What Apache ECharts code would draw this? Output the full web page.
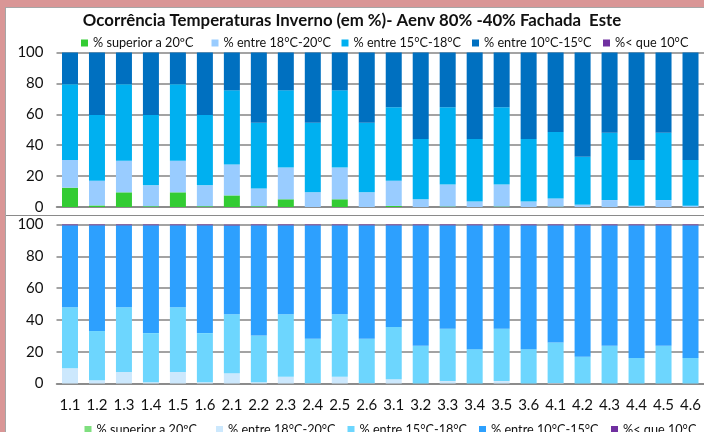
<!DOCTYPE html>
<html>
<head>
<meta charset="utf-8">
<script src="https://cdn.jsdelivr.net/npm/echarts@6/dist/echarts.min.js"></script>
<style>
html,body{margin:0;padding:0;width:704px;height:432px;overflow:hidden;background:#d99696;}
#frame{position:absolute;left:5px;top:7px;width:710px;height:440px;background:#fff;border-left:1px solid #a6a6a6;border-top:1px solid #a6a6a6;}
#sep{position:absolute;left:6px;top:215px;width:700px;height:1px;background:#8a8a8a;}
#chart{position:absolute;left:0;top:0;width:704px;height:432px;}
</style>
</head>
<body>
<div id="frame"></div>
<div id="sep"></div>
<div id="chart"></div>
<script>
const categories = ['1.1','1.2','1.3','1.4','1.5','1.6','2.1','2.2','2.3','2.4','2.5','2.6','3.1','3.2','3.3','3.4','3.5','3.6','4.1','4.2','4.3','4.4','4.5','4.6'];
const yTicks = [0, 20, 40, 60, 80, 100];
const seriesNames = ['% superior a 20ºC', '% entre 18°C-20°C', '% entre 15°C-18°C', '% entre 10°C-15°C', '%< que 10°C'];

// Top chart (segment values, %)
const topSup20 = [12.5,1,9.5,0.5,9.5,0.5,7.5,0.5,5,0,5,0,0.7,0,0.3,0,0.3,0,0.2,0,0,0,0,0];
const top18_20 = [18,16,20.5,13.5,20.5,13.5,20,11.5,20.5,9.5,20.5,9.5,16.3,5,14.2,3.5,14.2,3.5,5.3,1.5,4.5,0.8,4.5,0.8];
const top15_18 = [49,42.5,49.5,45.5,49.5,45.5,48,42.5,50,45,50,45,47.5,39,50,40.5,50,40.5,43,31,43.5,29.7,43.5,29.7];
const top10_15 = [20.5,40.5,20.5,40.5,20.5,40.5,24.5,45.5,24.5,45.5,24.5,45.5,35.5,56,35.5,56,35.5,56,51.5,67.5,52,69.5,52,69.5];
const topInf10 = [0,0,0,0,0,0,0,0,0,0,0,0,0,0,0,0,0,0,0,0,0,0,0,0];

// Bottom chart (segment values, %)
const botSup20 = [0,0,0,0,0,0,0,0,0,0,0,0,0,0,0,0,0,0,0,0,0,0,0,0];
const bot18_20 = [9.6,2,7.3,0.8,7.3,0.8,6.5,0.8,4.2,0.2,4.2,0.2,2.7,0,1.5,0,1.5,0,0.3,0,0,0,0,0];
const bot15_18 = [38.4,31,40.7,30.9,40.7,30.9,37,29.4,39.3,27.9,39.3,27.9,32.9,23.7,32.9,21.6,32.9,21.6,25.5,16.8,23.7,16.1,23.7,16.1];
const bot10_15 = [51.5,66.5,51.5,67.8,51.5,67.8,55.9,69.3,56,71.4,56,71.4,63.9,75.8,65.1,77.9,65.1,77.9,73.7,82.7,75.8,83.4,75.8,83.4];
const botInf10 = [0.5,0.5,0.5,0.5,0.5,0.5,0.5,0.5,0.5,0.5,0.5,0.5,0.5,0.5,0.5,0.5,0.5,0.5,0.5,0.5,0.5,0.5,0.5,0.5];

const topColors = ['#33cc33', '#99ccff', '#00b0f0', '#0070c0', '#7030a0'];
const botColors = ['#7fdf7f', '#cce8fd', '#6dd6fe', '#2da0fe', '#7030a0'];

const topData = [topSup20, top18_20, top15_18, top10_15, topInf10];
const botData = [botSup20, bot18_20, bot15_18, bot10_15, botInf10];

const FONT = 'Lato, "Open Sans", sans-serif';
const gridColor = '#858585';

function yAxis(gi) {
  return {
    type: 'value', gridIndex: gi, min: 0, max: 100, interval: 20,
    axisLine: {show: false}, axisTick: {show: false},
    axisLabel: {fontSize: 15, fontFamily: FONT, color: '#111', margin: 13},
    splitLine: {lineStyle: {color: gridColor, width: 1.5}}
  };
}
function xAxis(gi, showLabels) {
  return {
    type: 'category', gridIndex: gi, data: categories,
    axisLine: {lineStyle: {color: gridColor, width: 1.5}},
    axisTick: {show: false},
    axisLabel: {show: showLabels, fontSize: 15, fontFamily: FONT, color: '#111', margin: 14.5, interval: 0}
  };
}

const series = [];
const legends = [];
const topLegendX = [81, 211.5, 341.5, 472, 603];
const botLegendX = [84.5, 216, 347.5, 479, 611];
seriesNames.forEach((n, i) => {
  series.push({name: n, type: 'bar', stack: 'top', xAxisIndex: 0, yAxisIndex: 0,
    barWidth: 16, data: topData[i], itemStyle: {color: topColors[i]}, animation: false});
  legends.push({data: [n], left: topLegendX[i], top: 36.5, padding: 0, itemWidth: 7, itemHeight: 7,
    icon: 'rect', selectedMode: false, textStyle: {fontSize: 12.7, fontFamily: FONT, color: '#111'}});
});
seriesNames.forEach((n, i) => {
  const nm = n + ' ';
  series.push({name: nm, type: 'bar', stack: 'bot', xAxisIndex: 1, yAxisIndex: 1,
    barWidth: 16, data: botData[i], itemStyle: {color: botColors[i]}, animation: false});
  legends.push({data: [nm], left: botLegendX[i], top: 423, padding: 0, itemWidth: 7, itemHeight: 7,
    icon: 'rect', selectedMode: false, textStyle: {fontSize: 12.7, fontFamily: FONT, color: '#111'}});
});

const chart = echarts.init(document.getElementById('chart'), null, {renderer: 'canvas'});
chart.setOption({
  animation: false,
  backgroundColor: 'transparent',
  title: {text: 'Ocorrência Temperaturas Inverno (em %)- Aenv 80% -40% Fachada  Este', left: 'center', top: 12, padding: 0,
    textStyle: {fontSize: 16.8, fontWeight: 'bold', fontFamily: FONT, color: '#111'}},
  legend: legends,
  grid: [
    {left: 56.5, top: 52.5, width: 651, height: 154.5},
    {left: 56.5, top: 224.5, width: 651, height: 159}
  ],
  xAxis: [xAxis(0, false), xAxis(1, true)],
  yAxis: [yAxis(0), yAxis(1)],
  series: series
});
</script>
</body>
</html>
